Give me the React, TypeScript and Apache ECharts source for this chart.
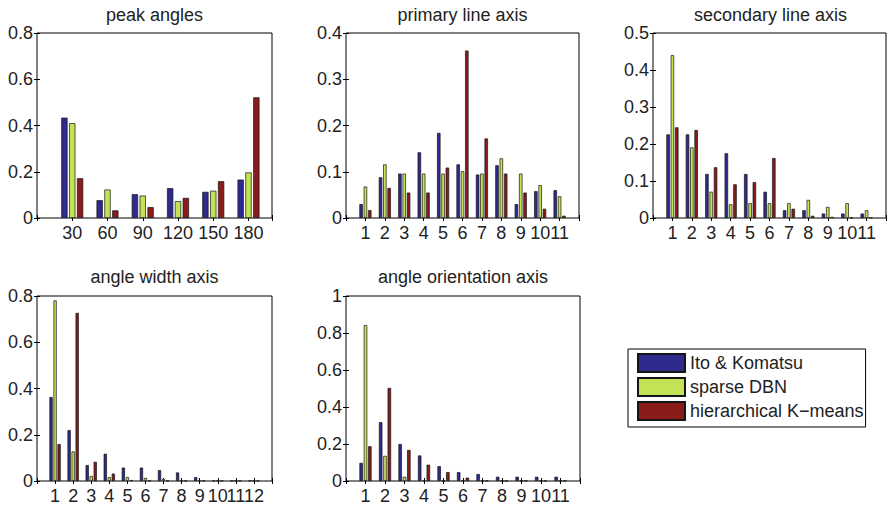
import React, { useEffect, useRef } from "react";
import * as echarts from "echarts";

const SERIES_NAMES = ["Ito & Komatsu", "sparse DBN", "hierarchical K\u2212means"];
const COLORS = ["#2E2B8C", "#C4E255", "#8A1B1B"];

const TITLES = ["peak angles", "primary line axis", "secondary line axis", "angle width axis", "angle orientation axis"];

const peakCats = [30, 60, 90, 120, 150, 180];
const peakIto = [0.434, 0.077, 0.103, 0.129, 0.113, 0.166];
const peakDbn = [0.41, 0.123, 0.097, 0.073, 0.118, 0.197];
const peakKm = [0.172, 0.033, 0.047, 0.087, 0.159, 0.522];

const lineCats = [1, 2, 3, 4, 5, 6, 7, 8, 9, 10, 11];
const primaryIto = [0.030, 0.088, 0.096, 0.142, 0.184, 0.116, 0.094, 0.114, 0.030, 0.058, 0.060];
const primaryDbn = [0.068, 0.116, 0.096, 0.096, 0.096, 0.101, 0.096, 0.129, 0.096, 0.071, 0.047];
const primaryKm = [0.017, 0.065, 0.055, 0.055, 0.109, 0.362, 0.172, 0.096, 0.055, 0.020, 0.005];

const secondaryIto = [0.226, 0.226, 0.119, 0.175, 0.119, 0.071, 0.021, 0.021, 0.012, 0.012, 0.012];
const secondaryDbn = [0.44, 0.191, 0.071, 0.037, 0.040, 0.040, 0.040, 0.049, 0.030, 0.040, 0.021];
const secondaryKm = [0.245, 0.238, 0.137, 0.091, 0.097, 0.162, 0.025, 0.006, 0.003, 0.001, 0.001];

const widthCats = [1, 2, 3, 4, 5, 6, 7, 8, 9, 10, 11, 12];
const widthIto = [0.363, 0.220, 0.069, 0.118, 0.058, 0.058, 0.047, 0.037, 0.017, 0.001, 0.001, 0.001];
const widthDbn = [0.781, 0.128, 0.022, 0.017, 0.017, 0.013, 0.009, 0.001, 0.002, 0.001, 0.001, 0.001];
const widthKm = [0.160, 0.727, 0.083, 0.032, 0.004, 0.001, 0.001, 0.001, 0.001, 0.001, 0.001, 0.001];

const orientCats = [1, 2, 3, 4, 5, 6, 7, 8, 9, 10, 11];
const orientIto = [0.098, 0.318, 0.200, 0.138, 0.080, 0.048, 0.038, 0.023, 0.023, 0.023, 0.023];
const orientDbn = [0.843, 0.136, 0.023, 0.003, 0.001, 0.002, 0.001, 0.001, 0.001, 0.001, 0.001];
const orientKm = [0.188, 0.503, 0.168, 0.088, 0.048, 0.018, 0.002, 0.001, 0.001, 0.001, 0.001];

const PANELS = [
  { cats: peakCats, data: [peakIto, peakDbn, peakKm], xMax: 200, xInt: 30, yMax: 0.8, yInt: 0.2, left: 37, top: 33, width: 235, height: 185 },
  { cats: lineCats, data: [primaryIto, primaryDbn, primaryKm], xMax: 12, xInt: 1, yMax: 0.4, yInt: 0.1, left: 346, top: 33, width: 233, height: 185 },
  { cats: lineCats, data: [secondaryIto, secondaryDbn, secondaryKm], xMax: 12, xInt: 1, yMax: 0.5, yInt: 0.1, left: 653, top: 33, width: 235, height: 185 },
  { cats: widthCats, data: [widthIto, widthDbn, widthKm], xMax: 13, xInt: 1, yMax: 0.8, yInt: 0.2, left: 37, top: 296, width: 235, height: 185 },
  { cats: orientCats, data: [orientIto, orientDbn, orientKm], xMax: 12, xInt: 1, yMax: 1, yInt: 0.2, left: 346, top: 296, width: 234, height: 185 },
];

const FONT = "'Liberation Sans', Arial, sans-serif";
const TEXT_COLOR = "#222";

export default function App() {
  const ref = useRef<HTMLDivElement>(null);
  useEffect(() => {
    if (!ref.current) return;
    const chart = echarts.init(ref.current, null, { renderer: "svg" });
    const grid: any[] = [];
    const xAxis: any[] = [];
    const yAxis: any[] = [];
    const series: any[] = [];
    const graphic: any[] = [];
    PANELS.forEach((p, i) => {
      grid.push({ left: p.left, top: p.top, width: p.width, height: p.height, show: true, borderColor: "#000", borderWidth: 1, backgroundColor: "#fff" });
      const tick = { show: true, inside: true, length: 3, lineStyle: { color: "#000", width: 1 } };
      xAxis.push({
        type: "value", gridIndex: i, position: "bottom", min: 0, max: p.xMax, interval: p.xInt,
        axisLine: { show: false }, splitLine: { show: false }, axisTick: tick,
        axisLabel: {
          show: true, margin: 6, fontSize: 18, fontFamily: FONT, color: TEXT_COLOR,
          formatter: (v: number) => (v === 0 || v === p.xMax ? "" : String(v)),
        },
      });
      xAxis.push({
        type: "value", gridIndex: i, position: "top", min: 0, max: p.xMax, interval: p.xInt,
        axisLine: { show: false }, splitLine: { show: false }, axisTick: tick, axisLabel: { show: false },
      });
      yAxis.push({
        type: "value", gridIndex: i, position: "left", min: 0, max: p.yMax, interval: p.yInt,
        axisLine: { show: false }, splitLine: { show: false }, axisTick: tick,
        axisLabel: { show: true, margin: 4, fontSize: 18, fontFamily: FONT, color: TEXT_COLOR },
      });
      yAxis.push({
        type: "value", gridIndex: i, position: "right", min: 0, max: p.yMax, interval: p.yInt,
        axisLine: { show: false }, splitLine: { show: false }, axisTick: tick, axisLabel: { show: false },
      });
      p.data.forEach((vals, s) => {
        series.push({
          type: "bar",
          name: SERIES_NAMES[s],
          xAxisIndex: 2 * i,
          yAxisIndex: 2 * i,
          barWidth: "17.8%",
          barGap: "25%",
          itemStyle: { color: COLORS[s], borderColor: "#151515", borderWidth: 0.7 },
          data: p.cats.map((c, k) => [c, vals[k]]),
        });
      });
      graphic.push({
        type: "text",
        x: p.left + p.width / 2,
        y: i < 3 ? 14.5 : 277,
        style: { text: TITLES[i], fontSize: 18, fontFamily: FONT, fill: TEXT_COLOR, textAlign: "center", textVerticalAlign: "middle" },
      });
    });
    chart.setOption({
      animation: false,
      backgroundColor: "#fff",
      grid,
      xAxis,
      yAxis,
      series,
      graphic,
      legend: {
        data: SERIES_NAMES,
        orient: "vertical",
        left: 628,
        top: 349,
        itemWidth: 47,
        itemHeight: 18,
        itemGap: 4,
        padding: [4, 2, 6, 9],
        borderColor: "#000",
        borderWidth: 1,
        backgroundColor: "#fff",
        icon: "rect",
        textStyle: { fontSize: 18, fontFamily: FONT, color: TEXT_COLOR },
      },
    });
    return () => chart.dispose();
  }, []);
  return <div ref={ref} style={{ position: "absolute", left: 0, top: 0, width: 889, height: 506 }} />;
}
